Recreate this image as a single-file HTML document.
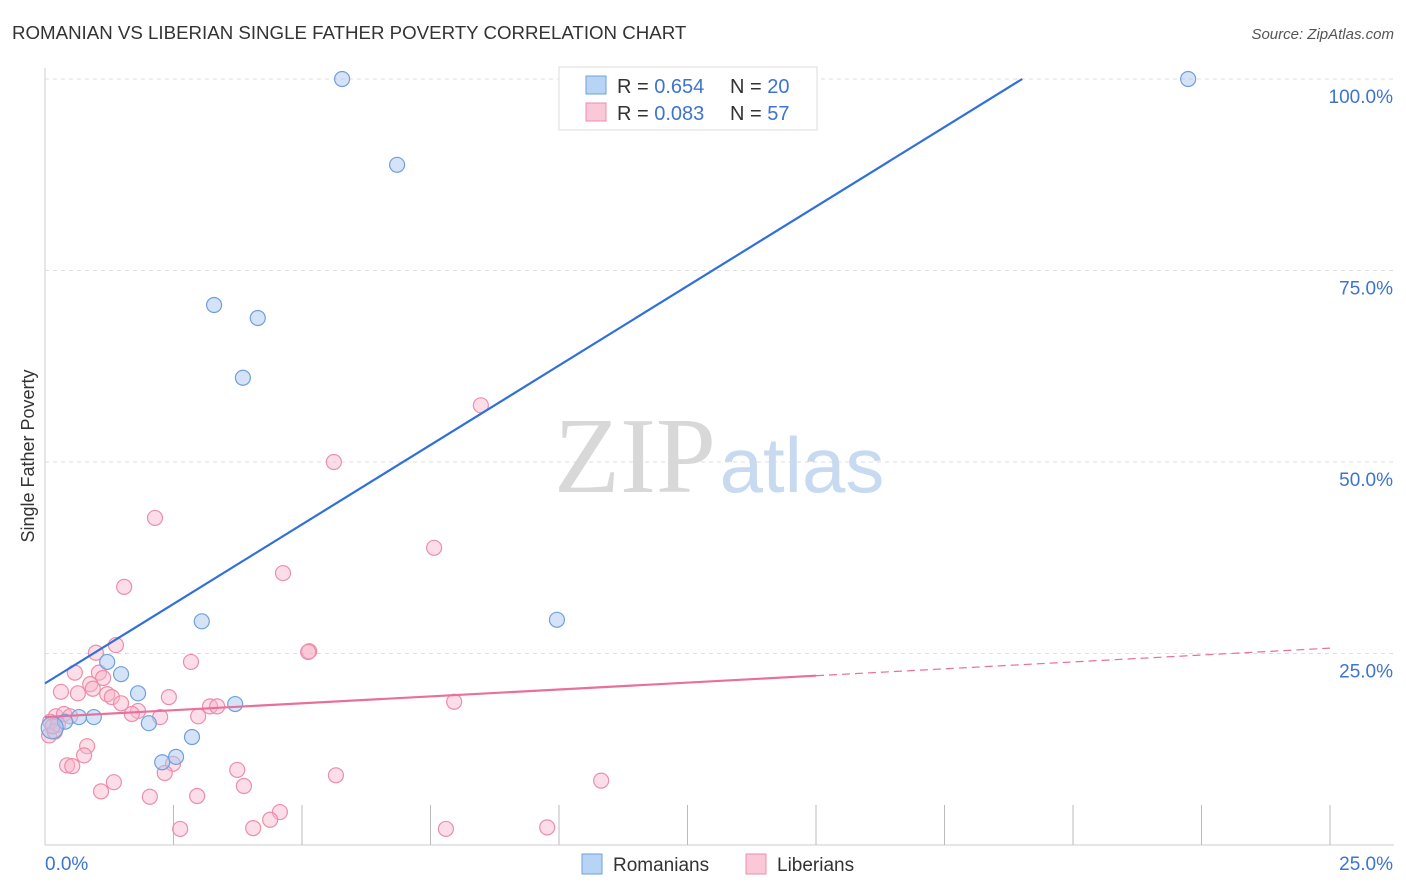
<!DOCTYPE html>
<html><head><meta charset="utf-8"><style>
body{margin:0;background:#fff;font-family:"Liberation Sans",sans-serif}
svg{display:block}
</style></head><body>
<svg id="chart" width="1406" height="892" viewBox="0 0 1406 892">
<text x="12" y="39" font-size="18.7" fill="#333">ROMANIAN VS LIBERIAN SINGLE FATHER POVERTY CORRELATION CHART</text>
<text x="1394" y="39" font-size="15" fill="#555" text-anchor="end" font-style="italic">Source: ZipAtlas.com</text>
<g id="grid"></g>
<g><text x="635" y="492" font-family="Liberation Serif,serif" font-size="108" fill="#d8d8d8" text-anchor="middle">ZIP</text><text x="802" y="492" font-size="78" fill="#c8daf0" text-anchor="middle">atlas</text></g>
<text transform="translate(34,456) rotate(-90)" font-size="18" fill="#333" text-anchor="middle">Single Father Poverty</text>
<g id="marks"></g>
<g>
<rect x="559" y="67" width="258" height="63" fill="#fff" stroke="#ddd"/>
<rect x="586" y="76" width="20" height="18" fill="#b8d4f4" stroke="#6fa0dc"/>
<text x="617" y="93" font-size="20" fill="#333">R = <tspan fill="#3d74d0">0.654</tspan></text>
<text x="730" y="93" font-size="20" fill="#333">N = <tspan fill="#3d74d0">20</tspan></text>
<rect x="586" y="103" width="20" height="18" fill="#fbc8d8" stroke="#ec8eaa"/>
<text x="617" y="120" font-size="20" fill="#333">R = <tspan fill="#3d74d0">0.083</tspan></text>
<text x="730" y="120" font-size="20" fill="#333">N = <tspan fill="#3d74d0">57</tspan></text>
</g>
<g>
<rect x="582" y="854" width="20" height="20" fill="#b8d4f4" stroke="#6fa0dc"/>
<text x="613" y="871" font-size="19" fill="#333">Romanians</text>
<rect x="746" y="854" width="20" height="20" fill="#fbc8d8" stroke="#ec8eaa"/>
<text x="777" y="871" font-size="19" fill="#333">Liberians</text>
</g>
</svg>
<script>
const xTicks=[0,2.5,5,7.5,10,12.5,15,17.5,20,22.5,25];
const yTicks=[25,50,75,100];
const yTickLabels=["25.0%","50.0%","75.0%","100.0%"];
const romX=[5.78,6.85,3.29,4.14,3.85,3.05,9.96,22.24,1.21,1.48,1.81,3.70,0.95,2.02,0.66,0.39,2.86,2.55,2.28,0.14];
const romY=[100,88.8,70.5,68.8,61.0,29.2,29.4,100,23.9,22.3,19.8,18.4,16.7,15.9,16.7,16.1,14.1,11.5,10.8,15.3];
const libX=[8.48,5.62,2.14,7.57,4.63,1.54,5.14,5.12,1.38,0.99,2.84,0.58,1.05,1.13,0.31,0.88,0.93,0.64,1.21,1.30,2.41,1.48,7.96,3.21,3.35,1.81,1.69,2.24,2.98,0.21,0.37,0.49,0.10,0.25,0.08,0.19,0.82,0.76,0.43,0.53,2.49,2.33,3.74,5.66,10.82,1.34,3.87,1.09,2.04,2.96,4.57,4.38,2.63,4.05,7.80,9.77,0.15];
const libY=[57.4,50.0,42.7,38.8,35.5,33.7,25.3,25.2,26.1,25.1,23.9,22.5,22.5,21.8,20.0,21.0,20.4,19.8,19.7,19.3,19.3,18.5,18.7,18.1,18.1,17.5,17.1,16.7,16.8,16.8,17.1,16.8,16.1,15.7,14.3,14.8,12.9,11.7,10.4,10.3,10.6,9.4,9.8,9.1,8.4,8.2,7.7,7.0,6.3,6.4,4.3,3.3,2.1,2.2,2.1,2.3,15.5];
const romLine=[21.1,4.15];
const libLine=[16.7,0.36];
const X=v=>45+v/25*1285, Y=v=>845-v/100*766;
const NS="http://www.w3.org/2000/svg";
function mk(t,a,p){const e=document.createElementNS(NS,t);for(const k in a)e.setAttribute(k,a[k]);p.appendChild(e);return e;}
const grid=document.getElementById('grid'),marks=document.getElementById('marks');
mk('line',{x1:45,y1:68,x2:45,y2:845,stroke:'#ccc'},grid);
mk('line',{x1:45,y1:845,x2:1394,y2:845,stroke:'#ccc'},grid);
mk('line',{x1:45,y1:79,x2:1394,y2:79,stroke:'#ddd','stroke-dasharray':'4,4'},grid);
yTicks.forEach((v,i)=>{
  const l=mk('line',{x1:45,y1:Y(v),x2:1394,y2:Y(v),stroke:'#ddd','stroke-dasharray':'4,4'},grid);
  
  
  const t=mk('text',{x:1393,y:Y(v)+24,'font-size':19,fill:'#3d74d0','text-anchor':'end'},grid);
  t.textContent=yTickLabels[i];
  
  
});
xTicks.forEach(v=>{if(v===0)return;
  const l=mk('line',{x1:X(v),y1:805,x2:X(v),y2:845,stroke:'#bbb'},grid);
  
  
});
const t0=mk('text',{x:45,y:870,'font-size':19,fill:'#3d74d0'},grid);t0.textContent='0.0%';


const t1=mk('text',{x:1393,y:870,'font-size':19,fill:'#3d74d0','text-anchor':'end'},grid);t1.textContent='25.0%';


libX.forEach((x,i)=>{const c=mk('circle',{cx:X(x),cy:Y(libY[i]),r:7.5,fill:'rgba(248,180,204,0.45)',stroke:'#ec8eaa','stroke-width':1.2},marks);
  
  });
romX.forEach((x,i)=>{const c=mk('circle',{cx:X(x),cy:Y(romY[i]),r:i===19?11:7.5,fill:'rgba(170,200,240,0.5)',stroke:'#6fa0dc','stroke-width':1.2},marks);
  
  });
const xEnd=(100-romLine[0])/romLine[1];
const rl=mk('line',{x1:X(0),y1:Y(romLine[0]),x2:X(xEnd),y2:Y(100),stroke:'#3070d8','stroke-width':2.2},marks);


const ll=mk('line',{x1:X(0),y1:Y(libLine[0]),x2:X(15),y2:Y(libLine[0]+15*libLine[1]),stroke:'#e8709a','stroke-width':2.2},marks);


const ld=mk('line',{x1:X(15),y1:Y(libLine[0]+15*libLine[1]),x2:X(25),y2:Y(libLine[0]+25*libLine[1]),stroke:'#e8709a','stroke-width':1.2,'stroke-dasharray':'8,5'},marks);


</script>
</body></html>
